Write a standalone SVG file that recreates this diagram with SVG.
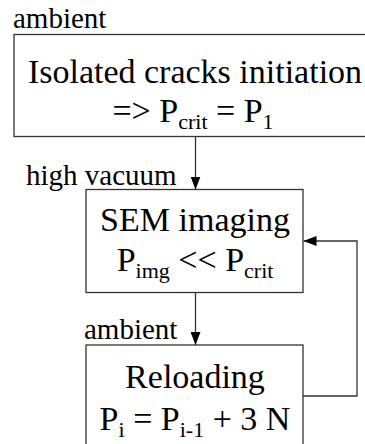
<svg xmlns="http://www.w3.org/2000/svg" width="365" height="444" viewBox="0 0 365 444">
<style>
.box{fill:#fff;stroke:#333;stroke-width:1.3}
.t{font-family:'Liberation Serif','Times New Roman',serif;fill:#000}
.main{font-size:34px;text-anchor:middle}
.lab{font-size:29px}
.sub{font-size:22px}
.edge{fill:none;stroke:#333;stroke-width:1.3}
</style>
<defs>
<marker id="ah" viewBox="0 0 13 10" refX="13" refY="5" markerWidth="13" markerHeight="10" markerUnits="userSpaceOnUse" orient="auto">
<path d="M0,0 L13,5 L0,10 z" fill="#000"/>
</marker>
</defs>
<rect width="365" height="444" fill="#fff"/>
<g id="n1">
<rect class="box" x="14" y="34.5" width="360" height="102"/>
<text class="t main" x="195" y="83">Isolated cracks initiation</text>
<text class="t main" x="193" y="122">=&gt; P<tspan class="sub" dy="7">crit</tspan><tspan dy="-7"> = P</tspan><tspan class="sub" dy="7">1</tspan></text>
</g>
<g id="n2">
<rect class="box" x="86" y="189.5" width="217" height="103"/>
<text class="t main" x="195" y="231">SEM imaging</text>
<text class="t main" x="195" y="271">P<tspan class="sub" dy="7">img</tspan><tspan dy="-7"> &lt;&lt; P</tspan><tspan class="sub" dy="7">crit</tspan></text>
</g>
<g id="n3">
<rect class="box" x="86" y="345" width="217" height="110"/>
<text class="t main" x="195" y="388">Reloading</text>
<text class="t main" x="195" y="430">P<tspan class="sub" dy="7">i</tspan><tspan dy="-7"> = P</tspan><tspan class="sub" dy="7">i-1</tspan><tspan dy="-7"> + 3 N</tspan></text>
</g>
<g id="labels">
<text class="t lab" x="13" y="28">ambient</text>
<text class="t lab" x="26" y="185">high vacuum</text>
<text class="t lab" x="84" y="339">ambient</text>
</g>
<g id="connectors">
<path class="edge" d="M195.5,136.5 V189.5" marker-end="url(#ah)"/>
<path class="edge" d="M195.5,292.5 V345" marker-end="url(#ah)"/>
<path class="edge" d="M303,396 H357 V241 H303.5" marker-end="url(#ah)"/>
</g>
</svg>
